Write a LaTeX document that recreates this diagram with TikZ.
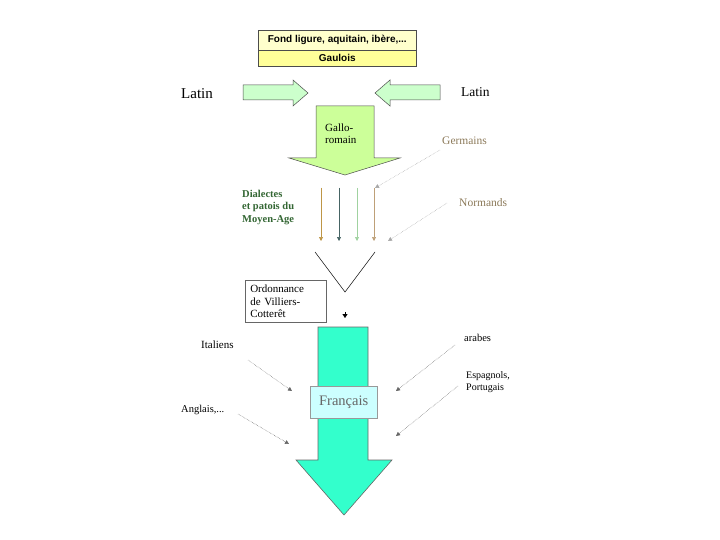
\documentclass[tikz,border=0pt]{standalone}
\usepackage{fontspec}
\setmainfont{Liberation Serif}
\newfontfamily\arialf{Liberation Sans}
\usetikzlibrary{arrows.meta}
\definecolor{paleyel}{HTML}{FFFFCC}
\definecolor{yel}{HTML}{FFFF99}
\definecolor{latgreen}{HTML}{CCFFCC}
\definecolor{galgreen}{HTML}{CCFF99}
\definecolor{teal2}{HTML}{33FFCC}
\definecolor{cyanbox}{HTML}{CCFFFF}
\definecolor{dgreen}{HTML}{336633}
\definecolor{brownish}{HTML}{8C7A5A}
\begin{document}
\begin{tikzpicture}[x=1pt,y=-1pt,
  lbl/.style={font=\fontsize{10.5}{12}\selectfont, inner sep=0pt, anchor=west},
  dashar/.style={draw=gray!80!black, densely dotted, line width=0.5pt, -{Triangle[length=4pt,width=4pt]}},
  vdash/.style={line width=0.6pt, -{Triangle[length=4pt,width=4pt]}},
  outl/.style={draw=black!70, line width=0.5pt}]
\useasboundingbox (0,0) rectangle (720,540);
% top box
\node[outl, fill=paleyel, minimum width=158pt, minimum height=20pt, inner sep=0pt, anchor=north west,
  font=\arialf\bfseries\fontsize{10}{11}\selectfont] (fond) at (258,30) {Fond ligure, aquitain, ibère,...};
\node[outl, fill=yel, minimum width=158pt, minimum height=16pt, inner sep=0pt, anchor=north west,
  font=\arialf\bfseries\fontsize{10}{11}\selectfont] (gaul) at (258,50) {Gaulois};
% Latin arrows
\draw[outl, fill=latgreen] (243,85) -- (293,85) -- (293,80) -- (308,93) -- (293,106) -- (293,100) -- (243,100) -- cycle;
\draw[outl, fill=latgreen] (440,85) -- (390,85) -- (390,80) -- (375,93) -- (390,106) -- (390,100) -- (440,100) -- cycle;
\node[lbl, font=\fontsize{15}{16}\selectfont] (latL) at (181,94) {Latin};
\node[lbl, font=\fontsize{13.5}{14}\selectfont] (latR) at (461,92) {Latin};
% Gallo-romain arrow
\draw[outl, fill=galgreen] (316,106) -- (374,106) -- (374,158) -- (400,158) -- (345,175) -- (289,158) -- (316,158) -- cycle;
\node[align=left, inner sep=0pt, anchor=north west, font=\fontsize{11}{12}\selectfont] (gallo) at (325,124) {Gallo-\\romain};
% Germains, Normands
\node[lbl, text=brownish, font=\fontsize{11.5}{12}\selectfont] (germ) at (442,141) {Germains};
\node[lbl, text=brownish, font=\fontsize{11.5}{12}\selectfont] (norm) at (459,203) {Normands};
\coordinate (germS) at (440,150);
\coordinate (germE) at (375,188);
\coordinate (normS) at (447,203);
\coordinate (normE) at (388,241);
\draw[dashar, draw=gray!70] (germS) -- (germE);
\draw[dashar, draw=gray!70] (normS) -- (normE);
% Dialectes
\node[align=left, inner sep=0pt, anchor=north west, text=dgreen, font=\bfseries\fontsize{10.5}{12.5}\selectfont] (dial) at (242,190) {Dialectes\\et patois du\\Moyen-Age};
\coordinate (d1s) at (321,188); \coordinate (d1e) at (321,241);
\coordinate (d2s) at (339,188); \coordinate (d2e) at (339,241);
\coordinate (d3s) at (357,188); \coordinate (d3e) at (357,241);
\coordinate (d4s) at (374,188); \coordinate (d4e) at (374,241);
\draw[vdash, draw={rgb,255:red,190;green,150;blue,70}, fill=black!60] (d1s) -- (d1e);
\draw[vdash, draw={rgb,255:red,70;green,100;blue,100}, fill={rgb,255:red,40;green,110;blue,90}] (d2s) -- (d2e);
\draw[vdash, draw={rgb,255:red,160;green,210;blue,160}, fill=black!40] (d3s) -- (d3e);
\draw[vdash, draw={rgb,255:red,190;green,160;blue,120}, fill=black!50] (d4s) -- (d4e);
% V
\coordinate (vL) at (315,252); \coordinate (vB) at (345,292); \coordinate (vR) at (375,252);
\draw[line width=0.5pt] (vL) -- (vB) -- (vR);
% Ordonnance
\node[draw=black!60, line width=0.5pt, align=left, anchor=north west, minimum width=81pt, minimum height=42pt,
  inner xsep=5pt, inner ysep=2pt, font=\fontsize{11}{12.5}\selectfont, text width=71pt] (ord) at (245,280) {Ordonnance\\de Villiers-\\Cotterêt};
\coordinate (smA) at (345,312); \coordinate (smB) at (345,318);
\draw[-{Triangle[length=4pt,width=5pt]}, line width=0.3pt] (smA) -- (smB);
% Francais arrow
\draw[draw=black!60, line width=0.6pt, fill=teal2] (318,327) -- (368,327) -- (368,460) -- (392,460) -- (344,515) -- (296,460) -- (318,460) -- cycle;
\node[draw=black!40, fill=cyanbox, minimum width=67pt, minimum height=32pt, inner sep=0pt, anchor=north west,
  text=black!60, font=\fontsize{14.5}{15}\selectfont] (fr) at (310,386) {Français};
% side labels
\node[lbl, font=\fontsize{11}{12}\selectfont] (ital) at (201,345) {Italiens};
\node[lbl] (angl) at (181,410) {Anglais,...};
\node[lbl] (arab) at (464,338) {arabes};
\node[lbl, align=left, font=\fontsize{10}{12}\selectfont] (esp) at (466,382) {Espagnols,\\Portugais};
\coordinate (itS) at (248,360); \coordinate (itE) at (292,391);
\coordinate (anS) at (238,414); \coordinate (anE) at (289,444);
\coordinate (arS) at (455,345); \coordinate (arE) at (396,391);
\coordinate (esS) at (458,386); \coordinate (esE) at (396,436);
\draw[dashar] (itS) -- (itE);
\draw[dashar] (anS) -- (anE);
\draw[dashar] (arS) -- (arE);
\draw[dashar] (esS) -- (esE);
\end{tikzpicture}
\end{document}
